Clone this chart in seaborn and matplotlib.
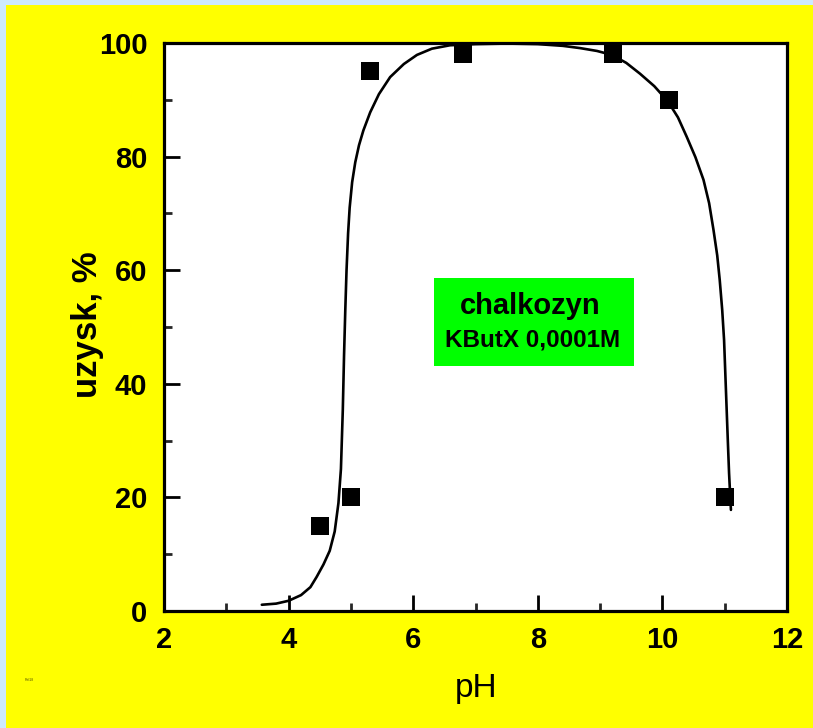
import matplotlib
matplotlib.use("Agg")
import matplotlib.pyplot as plt
import seaborn as sns
import pandas as pd
from matplotlib.patches import Rectangle
from matplotlib.ticker import MultipleLocator

# measured points
ph_points = [4.5, 5.0, 5.3, 6.8, 9.2, 10.1, 11.0]
yield_points = [15, 20, 95, 98, 98, 90, 20]

# fitted curve
curve_ph = [3.57, 3.8, 4.0, 4.2, 4.35, 4.45, 4.56, 4.66, 4.74, 4.80, 4.84, 4.87, 4.89, 4.91,
            4.93, 4.955, 4.98, 5.02, 5.07, 5.13, 5.2, 5.31, 5.45, 5.63, 5.85, 6.06, 6.3, 6.59, 7.0,
            7.5, 8.0, 8.4, 8.68, 8.95, 9.19, 9.42, 9.64, 9.87, 10.09, 10.25, 10.39, 10.53,
            10.66, 10.75, 10.82, 10.88, 10.92, 10.96, 10.99, 11.01, 11.03, 11.05, 11.07, 11.085, 11.10]
curve_yield = [1.1, 1.3, 1.8, 2.8, 4.2, 6.0, 8.2, 10.6, 14.0, 19.0, 25.0, 35.4, 45.0, 53.0,
               60.0, 66.5, 71.0, 75.5, 79.0, 82.0, 84.6, 87.8, 91.0, 94.0, 96.3, 97.9, 99.0, 99.6, 99.8,
               99.9, 99.8, 99.5, 99.1, 98.6, 97.9, 96.5, 94.6, 92.4, 89.7, 86.9, 83.5, 79.9,
               75.9, 71.8, 67.1, 62.6, 58.3, 53.0, 47.7, 41.8, 35.9, 30.0, 24.3, 21.0, 17.8]

x_ticks = [2, 4, 6, 8, 10, 12]
y_ticks = [0, 20, 40, 60, 80, 100]

pts = pd.DataFrame({"pH": ph_points, "uzysk": yield_points})
crv = pd.DataFrame({"pH": curve_ph, "uzysk": curve_yield})

sns.set_theme(style="white")
plt.rcParams["font.family"] = ["Liberation Sans", "DejaVu Sans"]

W, H = 813, 728
fig = plt.figure(figsize=(W / 100, H / 100), dpi=100)
fig.patch.set_facecolor("#cdeafd")
fig.patches.append(Rectangle((6 / W, 0), 1 - 6 / W, 1 - 5 / H, transform=fig.transFigure,
                             facecolor="#ffff00", edgecolor="none", zorder=-10))

AX_L, AX_R, AX_T, AX_B = 164, 787, 43, 611
ax = fig.add_axes([AX_L / W, 1 - AX_B / H, (AX_R - AX_L) / W, (AX_B - AX_T) / H])
ax.set_zorder(5)
ax.set_facecolor("white")

sns.lineplot(data=crv, x="pH", y="uzysk", ax=ax, color="black", linewidth=1.9,
             sort=False, estimator=None, zorder=3)
sns.scatterplot(data=pts, x="pH", y="uzysk", ax=ax, marker="s", s=150, color="black",
                edgecolor="black", linewidth=0, zorder=4)

ax.set_xlim(2, 12)
ax.set_ylim(0, 100)
ax.set_xticks(x_ticks)
ax.set_yticks(y_ticks)
ax.set_xticklabels([str(v) for v in x_ticks])
ax.set_yticklabels([str(v) for v in y_ticks])
ax.xaxis.set_minor_locator(MultipleLocator(1))
ax.yaxis.set_minor_locator(MultipleLocator(10))

for s in ax.spines.values():
    s.set_linewidth(2.3)
    s.set_color("black")

ax.tick_params(axis="both", which="major", direction="in", length=11.5, width=2,
               labelsize=21, colors="black", bottom=True, left=True)
ax.tick_params(axis="y", which="major", pad=12)
ax.tick_params(axis="x", which="major", pad=11)
ax.tick_params(axis="both", which="minor", direction="in", length=6, width=2,
               bottom=True, left=True)
ax.tick_params(top=False, right=False, which="both")
for lab in ax.get_xticklabels() + ax.get_yticklabels():
    lab.set_fontweight("bold")

def ax_x(px):
    return (px - AX_L) / (AX_R - AX_L)

def ax_y(py):
    return (AX_B - py) / (AX_B - AX_T)

ax.set_xlabel("pH", fontsize=24, color="black")
ax.xaxis.set_label_coords(ax_x(476), ax_y(688))
ax.xaxis.label.set_va("center")
ax.set_ylabel("uzysk, %", fontsize=25, fontweight="bold", color="black")
ax.yaxis.set_label_coords(ax_x(88), ax_y(325))
ax.yaxis.label.set_va("center")

# green annotation box
ax.add_patch(Rectangle((ax_x(434), ax_y(366)), ax_x(634) - ax_x(434), ax_y(278) - ax_y(366),
                       transform=ax.transAxes, facecolor="#00ff00", edgecolor="none", zorder=2))
ax.text(ax_x(530), ax_y(306), "chalkozyn", transform=ax.transAxes,
        ha="center", va="center", fontsize=21, fontweight="bold", color="black", zorder=5)
ax.text(ax_x(533), ax_y(340), "KButX 0,0001M", transform=ax.transAxes,
        ha="center", va="center", fontsize=17.5, fontweight="bold", color="black", zorder=5)

fig.text(25 / W, 1 - 680 / H, "Rel18", fontsize=2.5, color="#555500", ha="left", va="center")

fig.savefig("out.png", dpi=100, facecolor=fig.get_facecolor())
